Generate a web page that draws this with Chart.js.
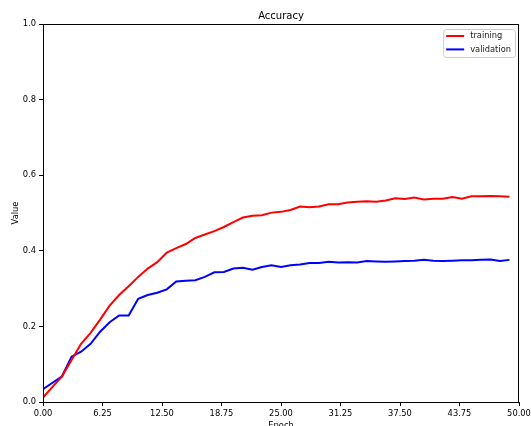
<!DOCTYPE html>
<html>
<head>
<meta charset="utf-8">
<title>Accuracy</title>
<script src="https://cdn.jsdelivr.net/npm/chart.js@4"></script>
<style>
    html, body { margin: 0; padding: 0; background: #fff; overflow: hidden; }
</style>
</head>
<body>
<canvas id="accChart" width="531" height="440"></canvas>
<script>
// Values
const epochs = [0, 1, 2, 3, 4, 5, 6, 7, 8, 9, 10, 11, 12, 13, 14, 15, 16, 17, 18, 19,
    20, 21, 22, 23, 24, 25, 26, 27, 28, 29, 30, 31, 32, 33, 34, 35, 36, 37, 38, 39,
    40, 41, 42, 43, 44, 45, 46, 47, 48, 49];
const trainingAcc = [0.012, 0.040, 0.068, 0.111, 0.154, 0.183, 0.218, 0.255, 0.283, 0.306,
    0.331, 0.353, 0.370, 0.395, 0.407, 0.418, 0.434, 0.443, 0.452, 0.463,
    0.476, 0.488, 0.493, 0.494, 0.501, 0.503, 0.508, 0.517, 0.515, 0.517,
    0.523, 0.523, 0.528, 0.530, 0.531, 0.530, 0.533, 0.539, 0.537, 0.541,
    0.536, 0.538, 0.538, 0.542, 0.538, 0.544, 0.544, 0.545, 0.544, 0.543];
const validationAcc = [0.034, 0.051, 0.068, 0.120, 0.133, 0.154, 0.186, 0.211, 0.229, 0.229,
    0.273, 0.283, 0.289, 0.298, 0.319, 0.321, 0.322, 0.331, 0.343, 0.344,
    0.353, 0.355, 0.350, 0.357, 0.362, 0.357, 0.362, 0.364, 0.368, 0.368,
    0.371, 0.369, 0.370, 0.369, 0.373, 0.372, 0.371, 0.372, 0.373, 0.374,
    0.376, 0.374, 0.373, 0.374, 0.375, 0.375, 0.376, 0.377, 0.373, 0.376];
const xTicks = [0, 6.25, 12.5, 18.75, 25, 31.25, 37.5, 43.75, 50];
const yTicks = [0, 0.2, 0.4, 0.6, 0.8, 1.0];

const FONT = "'DejaVu Sans', sans-serif";

// Box round the plot area, like matplotlib spines
const framePlugin = {
    id: "frame",
    afterDatasetsDraw(chart) {
        const { ctx, chartArea: a } = chart;
        ctx.save();
        ctx.strokeStyle = "#000";
        ctx.lineWidth = 1;
        ctx.strokeRect(Math.round(a.left) + 0.5, Math.round(a.top) + 0.5,
            Math.round(a.right - a.left) - 1, Math.round(a.bottom - a.top));
        ctx.restore();
    }
};

// Legend inside the top-right corner of the plot
const innerLegend = {
    id: "innerLegend",
    afterDraw(chart) {
        const { ctx, chartArea: a } = chart;
        const sets = chart.data.datasets;
        ctx.save();
        ctx.font = "8.3px " + FONT;
        const textW = Math.max(...sets.map((d) => ctx.measureText(d.label).width));
        const w = 3 + 18 + 6 + textW + 4;
        const h = 28;
        const x = a.right - 4 - w;
        const y = a.top + 5;
        ctx.beginPath();
        ctx.roundRect(x + 0.5, y + 0.5, w, h, 3);
        ctx.fillStyle = "rgba(255,255,255,0.8)";
        ctx.fill();
        ctx.strokeStyle = "#cccccc";
        ctx.lineWidth = 1;
        ctx.stroke();
        sets.forEach((d, i) => {
            const ly = y + 7 + i * 13.4;
            ctx.beginPath();
            ctx.moveTo(x + 3, ly);
            ctx.lineTo(x + 21, ly);
            ctx.strokeStyle = d.borderColor;
            ctx.lineWidth = 2;
            ctx.stroke();
            ctx.fillStyle = "#222";
            ctx.textBaseline = "middle";
            ctx.fillText(d.label, x + 27, ly);
        });
        ctx.restore();
    }
};

new Chart(document.getElementById("accChart"), {
    type: "line",
    data: {
        labels: epochs,
        datasets: [
            {
                label: "training",
                data: trainingAcc,
                borderColor: "#ff0000",
                borderWidth: 2,
                pointRadius: 0,
                tension: 0,
            },
            {
                label: "validation",
                data: validationAcc,
                borderColor: "#0000ff",
                borderWidth: 2,
                pointRadius: 0,
                tension: 0,
            },
        ],
    },
    options: {
        responsive: false,
        animation: false,
        layout: { padding: { left: 0, right: 12, top: 0, bottom: 0 } },
        plugins: {
            legend: { display: false },
            tooltip: { enabled: false },
            title: {
                display: true,
                text: "Accuracy",
                fullSize: false,
                color: "#000",
                font: { family: FONT, size: 10, weight: "normal" },
                padding: { top: 10, bottom: 2 },
            },
        },
        scales: {
            x: {
                type: "linear",
                min: 0,
                max: 50,
                afterBuildTicks: (scale) => { scale.ticks = xTicks.map((v) => ({ value: v })); },
                afterFit: (scale) => {
                    scale.height = 38;
                    scale.paddingLeft = 0;
                    scale.paddingRight = 0;
                },
                ticks: {
                    color: "#000",
                    font: { family: FONT, size: 8.3 },
                    padding: 3,
                    maxRotation: 0,
                    autoSkip: false,
                    callback: (v) => Number(v).toFixed(2),
                },
                grid: { display: true, drawOnChartArea: false, drawTicks: true, tickLength: 4, color: "#000" },
                border: { display: false },
                title: {
                    display: true,
                    text: "Epoch",
                    color: "#000",
                    font: { family: FONT, size: 8.3 },
                    padding: { top: 0, bottom: 9 },
                },
            },
            y: {
                min: 0,
                max: 1,
                afterBuildTicks: (scale) => { scale.ticks = yTicks.map((v) => ({ value: v })); },
                afterFit: (scale) => {
                    scale.width = 43;
                    scale.paddingTop = 0;
                    scale.paddingBottom = 0;
                },
                ticks: {
                    color: "#000",
                    font: { family: FONT, size: 8.3 },
                    padding: 3,
                    autoSkip: false,
                    callback: (v) => Number(v).toFixed(1),
                },
                grid: { display: true, drawOnChartArea: false, drawTicks: true, tickLength: 4, color: "#000" },
                border: { display: false },
                title: {
                    display: true,
                    text: "Value",
                    color: "#000",
                    font: { family: FONT, size: 8.3 },
                    padding: { top: 10.5, bottom: 0 },
                },
            },
        },
    },
    plugins: [framePlugin, innerLegend],
});
</script>
</body>
</html>
